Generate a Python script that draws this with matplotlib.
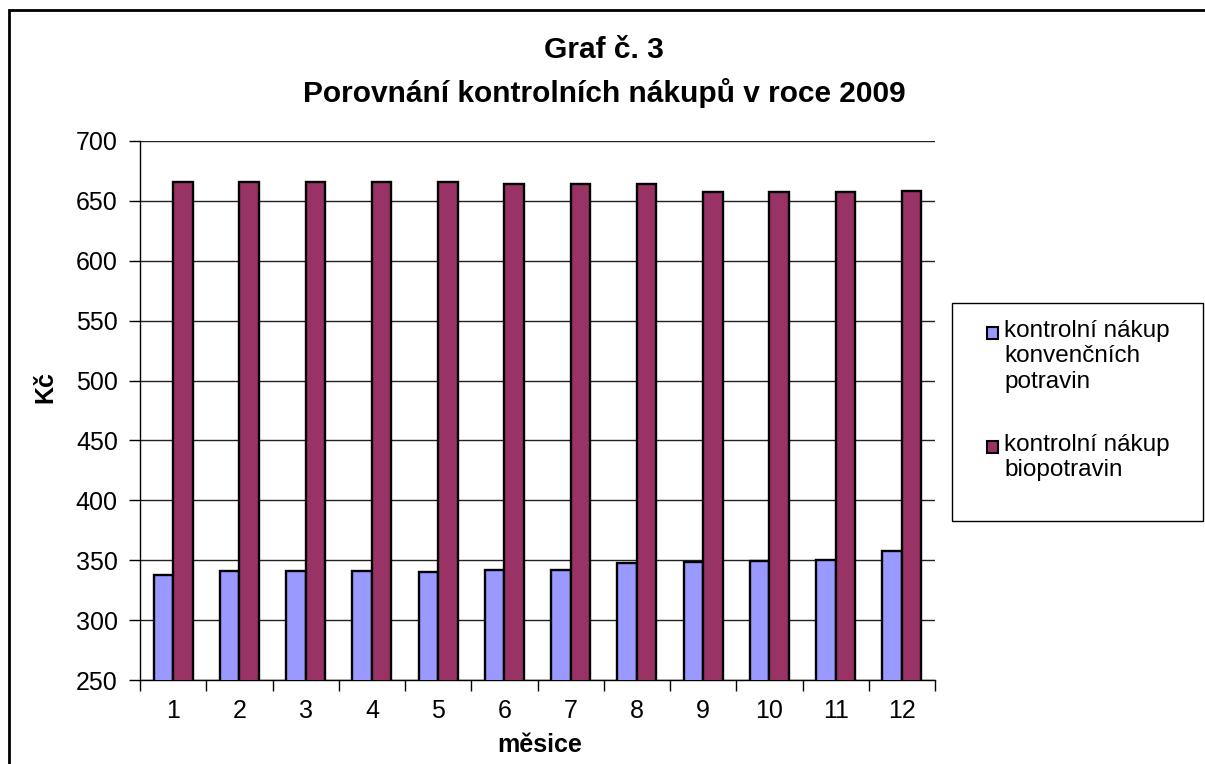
import matplotlib
matplotlib.use("Agg")
import matplotlib.pyplot as plt
from matplotlib.patches import Rectangle
import numpy as np

months = ["1", "2", "3", "4", "5", "6", "7", "8", "9", "10", "11", "12"]
conventional = [338, 341, 341, 341, 340, 342, 342, 347.5, 348.5, 349.5, 350.5, 358]
bio = [666, 666, 666, 666, 666, 664, 664, 664, 657.5, 657.5, 657.5, 658.5]
series_names = ["kontrolní nákup\nkonvenčních\npotravin", "kontrolní nákup\nbiopotravin"]
colors = ["#9999FF", "#993366"]
title_lines = ["Graf č. 3", "Porovnání kontrolních nákupů v roce 2009"]
ylabel = "Kč"
xlabel = "měsice"
yticks = [250, 300, 350, 400, 450, 500, 550, 600, 650, 700]

plt.rcParams['font.family'] = ['Liberation Sans', 'DejaVu Sans']

W, H = 1205, 764
fig = plt.figure(figsize=(W / 100, H / 100), dpi=100)
fig.patch.set_facecolor("white")

def fx(px):
    return px / W

def fy(py):
    return 1 - py / H

ax = fig.add_axes([fx(140), fy(680), fx(935) - fx(140), fy(141) - fy(680)])

x = np.arange(len(months))
bw = 0.295
ax.bar(x - bw / 2, conventional, bw, color=colors[0], edgecolor="black", linewidth=1.7, zorder=3)
ax.bar(x + bw / 2, bio, bw, color=colors[1], edgecolor="black", linewidth=1.7, zorder=3)

ax.set_xlim(-0.5, len(months) - 0.5)
ax.set_ylim(250, 700)
ax.set_yticks(yticks)
ax.set_yticklabels([str(v) for v in yticks], fontsize=18)
ax.yaxis.grid(True, color="#222222", linewidth=1.0, zorder=0)
ax.set_axisbelow(True)

ax.set_xticks(x)
ax.set_xticklabels(months, fontsize=18)
ax.set_xticks(np.arange(-0.5, len(months), 1.0), minor=True)
ax.tick_params(axis="x", which="major", length=0, pad=14)
ax.tick_params(axis="x", which="minor", length=8, width=1, direction="out", color="black")
ax.tick_params(axis="y", length=8, width=1, direction="out", pad=8)

for s in ["top", "right"]:
    ax.spines[s].set_visible(False)
for s in ["left", "bottom"]:
    ax.spines[s].set_color("black")
    ax.spines[s].set_linewidth(1.0)

ax.set_ylabel(ylabel, fontsize=18, fontweight="bold")
ax.set_xlabel(xlabel, fontsize=18, fontweight="bold")
ax.yaxis.set_label_coords(fx(45), fy(387), transform=fig.transFigure)
ax.xaxis.set_label_coords(fx(540), fy(745), transform=fig.transFigure)
ax.yaxis.label.set_va("center")
ax.xaxis.label.set_va("center")

fig.text(fx(604), fy(50), title_lines[0], ha="center", va="center", fontsize=21.5, fontweight="bold")
fig.text(fx(604), fy(93), title_lines[1], ha="center", va="center", fontsize=21.5, fontweight="bold")

# Outer chart frame
fig.patches.append(Rectangle((fx(9), fy(H + 20)), fx(W + 20), fy(10) - fy(H + 20),
                             transform=fig.transFigure, fill=False,
                             edgecolor="black", linewidth=2.0))

# Legend box
fig.patches.append(Rectangle((fx(952), fy(521)), fx(1203) - fx(952), fy(303) - fy(521),
                             transform=fig.transFigure, fill=False,
                             edgecolor="black", linewidth=1.0))
legend_rows = [333, 447]
for name, col, yrow in zip(series_names, colors, legend_rows):
    fig.patches.append(Rectangle((fx(987), fy(yrow + 6)), fx(11), fy(yrow - 6) - fy(yrow + 6),
                                 transform=fig.transFigure, facecolor=col,
                                 edgecolor="black", linewidth=1.5))
    fig.text(fx(1004), fy(yrow - 13), name, ha="left", va="top", fontsize=17.5,
             linespacing=1.2)

fig.savefig("out.png", dpi=100)
